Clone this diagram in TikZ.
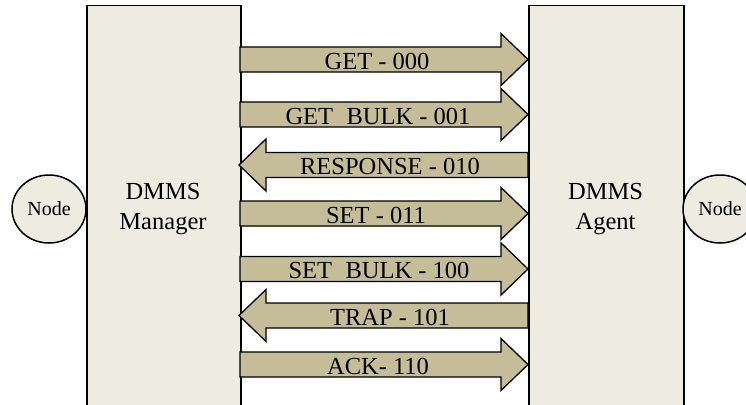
\documentclass[tikz,border=0pt]{standalone}
\usepackage{fontspec}
\setmainfont{Liberation Serif}
\usetikzlibrary{shapes.geometric}
\definecolor{boxfill}{HTML}{EEECE1}
\definecolor{arrfill}{HTML}{C4BD97}
\tikzset{
  box/.style={draw=black, fill=boxfill, line width=1.5pt, inner sep=0pt, anchor=north west},
  boxtext/.style={align=center, font=\fontsize{24.5}{30}\selectfont, inner sep=0pt},
  endnode/.style={ellipse, draw=black, fill=boxfill, line width=1.5pt, minimum width=74pt, minimum height=68pt, inner sep=0pt, font=\fontsize{20}{24}\selectfont},
  blockarrow/.style={draw=black, fill=arrfill, line width=1.3pt, line join=miter},
  lbl/.style={font=\fontsize{24.5}{30}\selectfont, inner sep=0pt, anchor=base}
}
\newcommand\rarr[4]{% name, center y, label, text x
  \draw[blockarrow] (240,{#2-12.5}) -- (501,{#2-12.5}) -- (501,{#2-26}) -- (528,#2)
    -- (501,{#2+26}) -- (501,{#2+12.5}) -- (240,{#2+12.5}) -- cycle;
  \node[lbl] (#1) at (#4,{#2+9.5}) {#3};}
\newcommand\larr[4]{% name, center y, label, text x
  \draw[blockarrow] (528,{#2-12.5}) -- (266,{#2-12.5}) -- (266,{#2-26}) -- (239,#2)
    -- (266,{#2+26}) -- (266,{#2+12.5}) -- (528,{#2+12.5}) -- cycle;
  \node[lbl] (#1) at (#4,{#2+9.5}) {#3};}
\begin{document}
\begin{tikzpicture}[x=1pt,y=-1pt]
\useasboundingbox (0,0) rectangle (746,404);
\clip (0,0) rectangle (746,404);
\node[box, minimum width=154pt, minimum height=430pt] (mgr) at (86,5) {};
\node[box, minimum width=155pt, minimum height=430pt] (agt) at (528,5) {};
\node[boxtext] (mgrt) at (163,209) {DMMS\\Manager};
\node[boxtext] (agtt) at (605.5,209) {DMMS\\Agent};
\node[endnode] (n1) at (49,209) {Node};
\node[endnode] (n2) at (720,209) {Node};
\rarr{a1}{59.5}{GET - 000}{377}
\rarr{a2}{114.5}{GET\hspace{0.55em}BULK - 001}{378}
\larr{a3}{165}{RESPONSE - 010}{390}
\rarr{a4}{213.5}{SET - 011}{376}
\rarr{a5}{269}{SET\hspace{0.55em}BULK - 100}{379}
\larr{a6}{315.5}{TRAP - 101}{390}
\rarr{a7}{364.5}{ACK- 110}{378}
\end{tikzpicture}
\end{document}
